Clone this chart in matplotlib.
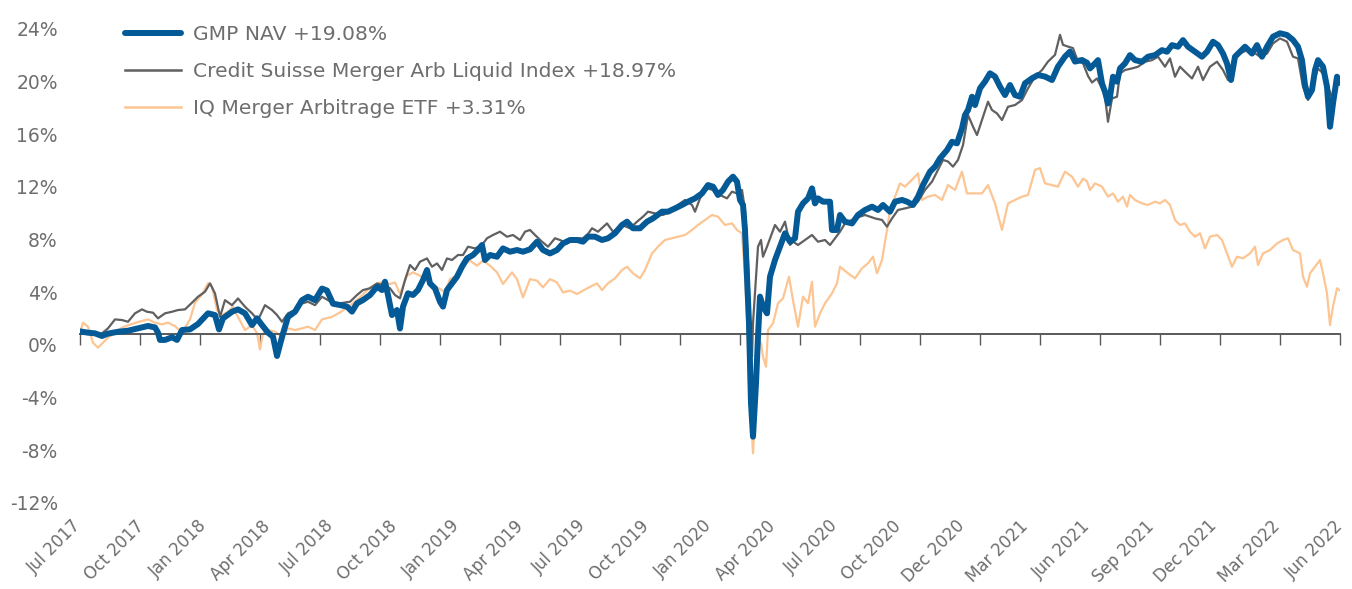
import numpy as np
import matplotlib
matplotlib.use("Agg")
import matplotlib.pyplot as plt
from matplotlib.lines import Line2D
from matplotlib.transforms import ScaledTranslation

# x = trading-day index from the start of Jul 2017, y = cumulative return in %
gmp_day = [0, 8, 15, 22, 28, 38, 48, 58, 68, 75, 78, 80, 85, 92, 97, 102, 110, 118, 128, 135,
           139, 143, 152, 158, 165, 172, 177, 182, 188, 193, 197, 200, 203, 208, 215, 222, 228, 235, 242, 247,
           253, 260, 267, 272, 277, 283, 290, 297, 302, 305, 308, 312, 317, 320, 323, 328, 333, 338, 343, 347,
           350, 355, 360, 363, 367, 372, 377, 382, 387, 393, 398, 402, 405, 410, 417, 423, 430, 437, 443, 450,
           457, 463, 470, 477, 483, 490, 497, 503, 508, 515, 522, 528, 535, 542, 547, 553, 560, 567, 573, 582,
           588, 595, 602, 608, 615, 622, 628, 633, 638, 643, 648, 653, 657, 660, 663, 665, 667, 669, 671, 673,
           676, 678, 680, 683, 687, 690, 695, 700, 705, 710, 715, 718, 723, 728, 732, 735, 738, 743, 750, 752,
           757, 760, 765, 772, 778, 785, 792, 798, 803, 810, 815, 822, 827, 833, 838, 843, 850, 855, 860, 867,
           872, 877, 882, 885, 888, 892, 895, 900, 905, 910, 915, 920, 925, 930, 935, 940, 945, 952, 958, 965,
           972, 978, 985, 990, 995, 1002, 1007, 1010, 1015, 1018, 1022, 1025, 1028, 1030, 1033, 1037, 1040, 1045, 1050, 1055,
           1062, 1068, 1075, 1082, 1087, 1092, 1098, 1103, 1108, 1115, 1122, 1127, 1133, 1138, 1143, 1147, 1151, 1155, 1160, 1165,
           1172, 1177, 1182, 1187, 1193, 1200, 1207, 1213, 1218, 1222, 1225, 1228, 1232, 1235, 1238, 1243, 1247, 1250, 1253, 1257,
           1260]
gmp_ret = [0.2, 0.1, 0.05, -0.15, 0.03, 0.17, 0.25, 0.43, 0.61, 0.5, 0.1, -0.45, -0.45, -0.25, -0.45, 0.3, 0.35, 0.76, 1.57, 1.44,
           0.35, 1.19, 1.69, 1.87, 1.57, 0.68, 1.19, 0.68, 0.1, -0.2, -1.67, -0.8, 0.03, 1.3, 1.69, 2.57, 2.83, 2.57, 3.45, 3.3,
           2.3, 2.2, 2.08, 1.7, 2.33, 2.58, 2.96, 3.59, 3.34, 3.97, 2.96, 1.44, 1.82, 0.42, 2.08, 3.09, 2.96, 3.34, 4.1, 4.86,
           3.84, 3.47, 2.45, 2.08, 3.34, 3.84, 4.35, 5.11, 5.74, 6.0, 6.38, 6.76, 5.62, 6.0, 5.87, 6.5, 6.25, 6.38, 6.25, 6.43,
           7.01, 6.38, 6.12, 6.38, 6.88, 7.14, 7.14, 7.01, 7.4, 7.39, 7.14, 7.27, 7.65, 8.28, 8.53, 8.03, 8.03, 8.53, 8.78, 9.29,
           9.29, 9.54, 9.8, 10.05, 10.3, 10.68, 11.31, 11.19, 10.56, 10.94, 11.57, 11.95, 11.57, 10.18, 9.8, 7.9, 4.35, 0.81, -5.26, -7.8,
           -3.75, -0.2, 2.84, 2.08, 1.57, 4.35, 5.62, 6.63, 7.65, 7.01, 7.27, 9.29, 9.92, 10.3, 11.06, 9.92, 10.3, 10.05, 10.05, 7.9,
           7.9, 9.04, 8.53, 8.4, 9.04, 9.42, 9.67, 9.42, 9.8, 9.29, 10.05, 10.18, 10.05, 9.8, 10.43, 11.31, 12.33, 12.71, 13.34, 13.97,
           14.6, 14.48, 15.62, 16.63, 17.01, 18.02, 17.39, 18.66, 19.17, 19.8, 19.55, 18.79, 18.15, 18.91, 18.15, 18.02, 19.04, 19.42, 19.67, 19.55,
           19.29, 20.31, 21.07, 21.45, 20.69, 20.81, 20.6, 20.17, 20.55, 20.8, 19.03, 18.4, 17.51, 18.02, 19.54, 19.16, 20.17, 20.55, 21.18, 20.8,
           20.68, 21.06, 21.18, 21.56, 21.44, 21.94, 21.82, 22.32, 21.82, 21.44, 21.06, 21.44, 22.2, 21.94, 21.3, 20.55, 19.29, 21.06, 21.44, 21.82,
           21.3, 21.94, 21.06, 21.82, 22.58, 22.84, 22.71, 22.33, 21.82, 20.8, 18.91, 18.02, 18.53, 20.05, 20.8, 20.3, 18.78, 15.74, 17.51, 19.54,
           19.08]

cs_day = [0, 8, 22, 28, 35, 42, 48, 55, 62, 67, 73, 78, 85, 92, 98, 105, 112, 118, 125, 130,
          135, 140, 145, 152, 158, 165, 172, 178, 185, 192, 197, 202, 208, 215, 222, 228, 235, 242, 252, 260,
          270, 277, 283, 290, 297, 303, 310, 315, 320, 325, 330, 335, 340, 347, 352, 357, 362, 367, 372, 378,
          383, 388, 395, 402, 407, 413, 420, 427, 433, 440, 445, 450, 455, 462, 468, 475, 480, 487, 493, 503,
          508, 512, 518, 527, 533, 542, 550, 557, 563, 568, 575, 583, 590, 598, 605, 612, 615, 620, 627, 633,
          640, 647, 652, 657, 662, 665, 668, 670, 672, 673, 676, 678, 681, 683, 687, 692, 695, 700, 705, 710,
          713, 718, 725, 732, 738, 745, 750, 755, 760, 765, 775, 785, 795, 802, 807, 812, 818, 825, 832, 838,
          845, 852, 858, 863, 868, 873, 878, 883, 888, 893, 897, 902, 908, 912, 917, 922, 928, 935, 942, 948,
          955, 962, 968, 975, 980, 983, 988, 993, 998, 1003, 1008, 1012, 1017, 1022, 1025, 1028, 1032, 1037, 1040, 1045,
          1052, 1058, 1065, 1072, 1078, 1085, 1090, 1095, 1100, 1105, 1112, 1118, 1123, 1130, 1137, 1143, 1148, 1153, 1160, 1167,
          1173, 1180, 1187, 1193, 1200, 1207, 1213, 1218, 1223, 1228, 1233, 1238, 1243, 1248, 1253, 1257, 1260]
cs_ret = [0.1, 0.1, 0.05, 0.43, 1.11, 1.06, 0.93, 1.57, 1.87, 1.69, 1.62, 1.19, 1.57, 1.69, 1.82, 1.87, 2.38, 2.83, 3.21, 3.85,
          3.08, 1.3, 2.57, 2.19, 2.7, 2.07, 1.57, 1.06, 2.19, 1.82, 1.44, 0.93, 1.57, 1.82, 2.32, 2.45, 2.19, 2.83, 2.4, 2.33,
          2.45, 2.96, 3.34, 3.47, 3.84, 3.72, 3.47, 2.96, 2.71, 4.1, 5.24, 4.86, 5.49, 5.74, 5.11, 5.36, 4.86, 5.74, 5.62, 6.0,
          6.0, 6.63, 6.5, 6.76, 7.27, 7.52, 7.77, 7.39, 7.52, 7.14, 7.77, 7.9, 7.52, 7.01, 6.63, 7.27, 7.14, 6.88, 7.27, 7.27,
          7.6, 8.03, 7.77, 8.4, 7.77, 8.28, 8.03, 8.53, 8.91, 9.29, 9.16, 9.04, 9.29, 9.8, 10.18, 9.8, 9.29, 10.3, 11.06, 10.94,
          10.56, 10.3, 10.81, 10.68, 10.94, 9.42, 5.62, 0.81, -1.72, 0.81, 4.35, 6.63, 7.14, 5.87, 6.63, 7.65, 8.28, 7.77, 8.53, 6.76,
          7.01, 6.76, 7.14, 7.52, 7.01, 7.14, 6.76, 7.27, 7.77, 8.4, 8.78, 9.04, 8.78, 8.66, 8.15, 8.78, 9.42, 9.54, 9.67, 10.05,
          10.94, 11.57, 12.46, 13.22, 13.1, 12.71, 13.22, 14.35, 16.63, 15.75, 15.11, 16.25, 17.64, 17.01, 16.75, 16.25, 17.26, 17.39, 17.77, 18.66,
          19.55, 20.05, 20.69, 21.2, 22.72, 21.96, 21.83, 21.71, 20.69, 20.56, 19.6, 19.1, 19.41, 18.65, 18.02, 16.12, 17.89, 18.02, 19.79, 20.05,
          20.17, 20.3, 20.68, 20.8, 21.06, 20.3, 20.93, 19.54, 20.3, 19.92, 19.41, 20.3, 19.29, 20.3, 20.68, 20.05, 19.29, 20.8, 21.3, 21.56,
          21.44, 21.06, 21.3, 22.07, 22.45, 22.2, 21.06, 20.93, 18.78, 17.77, 18.91, 20.17, 19.79, 18.78, 17.8, 19.3, 18.97]

iq_day = [0, 3, 8, 13, 18, 23, 28, 35, 42, 48, 58, 68, 75, 82, 88, 95, 102, 110, 115, 122,
          128, 132, 137, 142, 148, 153, 158, 165, 172, 177, 180, 183, 188, 195, 202, 208, 215, 222, 228, 235,
          242, 252, 260, 270, 280, 290, 300, 310, 315, 320, 327, 333, 340, 347, 353, 360, 365, 370, 377, 383,
          390, 397, 403, 410, 417, 423, 432, 437, 443, 450, 457, 463, 470, 477, 483, 490, 497, 503, 508, 517,
          522, 528, 535, 542, 547, 553, 560, 565, 572, 578, 585, 592, 598, 605, 612, 618, 625, 632, 638, 645,
          652, 657, 662, 665, 667, 669, 672, 673, 676, 678, 681, 683, 686, 688, 693, 698, 703, 709, 713, 718,
          723, 728, 732, 735, 740, 745, 752, 757, 760, 765, 768, 775, 782, 788, 793, 797, 802, 807, 810, 815,
          820, 825, 830, 835, 838, 842, 848, 855, 862, 868, 875, 882, 887, 895, 902, 908, 915, 922, 928, 935,
          942, 948, 955, 960, 965, 972, 978, 985, 992, 998, 1003, 1007, 1010, 1015, 1022, 1028, 1033, 1038, 1043, 1047,
          1050, 1055, 1062, 1068, 1075, 1080, 1085, 1090, 1095, 1100, 1105, 1110, 1115, 1120, 1125, 1130, 1137, 1142, 1147, 1152,
          1157, 1163, 1170, 1175, 1178, 1183, 1190, 1197, 1203, 1208, 1213, 1220, 1223, 1227, 1230, 1235, 1240, 1243, 1247, 1250,
          1253, 1257, 1260]
iq_ret = [0.1, 0.86, 0.56, -0.66, -1.04, -0.66, -0.28, 0.1, 0.48, 0.66, 0.91, 1.11, 0.86, 0.73, 0.86, 0.6, 0.1, 1.11, 2.38, 3.0,
          3.85, 3.6, 1.82, 1.44, 1.69, 2.07, 1.3, 0.3, 0.68, 0.05, -1.17, 0.05, 0.3, 0.17, -0.2, 0.43, 0.3, 0.43, 0.56, 0.3,
          1.11, 1.3, 1.64, 2.15, 2.78, 3.54, 3.92, 3.8, 3.92, 3.04, 4.43, 4.68, 4.43, 4.05, 3.67, 3.42, 3.16, 4.17, 4.43, 5.19,
          5.57, 5.19, 5.57, 5.19, 4.68, 3.8, 4.68, 4.17, 2.78, 4.17, 4.05, 3.54, 4.17, 3.92, 3.16, 3.29, 3.04, 3.29, 3.5, 3.85,
          3.34, 3.85, 4.23, 4.86, 5.11, 4.61, 4.23, 4.86, 6.12, 6.63, 7.14, 7.27, 7.39, 7.52, 7.9, 8.28, 8.66, 9.04, 8.91, 8.28,
          8.4, 7.9, 7.65, 4.35, 1.32, -3.75, -7.54, -9.06, -4.76, -0.2, -0.71, -1.72, -2.48, 0.3, 0.81, 2.33, 2.71, 4.35, 2.58, 0.56,
          2.84, 2.33, 3.97, 0.56, 1.57, 2.33, 3.09, 3.85, 5.11, 4.8, 4.61, 4.23, 4.99, 5.37, 5.87, 4.61, 5.62, 7.9, 9.42, 10.43,
          11.44, 11.19, 11.57, 11.95, 12.2, 10.18, 10.43, 10.56, 10.18, 11.31, 10.94, 12.33, 10.68, 10.68, 10.68, 11.31, 9.92, 7.9, 9.92, 10.18,
          10.43, 10.56, 12.46, 12.6, 11.44, 11.31, 11.19, 12.33, 11.95, 11.19, 11.8, 11.6, 10.94, 11.44, 11.19, 10.43, 10.68, 10.05, 10.43, 9.67,
          10.56, 10.18, 9.92, 9.8, 10.05, 9.92, 10.18, 9.8, 8.66, 8.28, 8.4, 7.77, 7.39, 7.65, 6.5, 7.39, 7.52, 7.14, 6.12, 5.11,
          5.87, 5.75, 6.12, 6.63, 5.24, 6.12, 6.38, 6.88, 7.14, 7.27, 6.38, 6.12, 4.35, 3.59, 4.61, 5.11, 5.62, 4.61, 3.09, 0.68,
          2.08, 3.47, 3.31]

series_names = ["GMP NAV +19.08%",
                "Credit Suisse Merger Arb Liquid Index +18.97%",
                "IQ Merger Arbitrage ETF +3.31%"]

quarter_labels = ["Jul 2017", "Oct 2017", "Jan 2018", "Apr 2018", "Jul 2018", "Oct 2018",
                  "Jan 2019", "Apr 2019", "Jul 2019", "Oct 2019", "Jan 2020", "Apr 2020",
                  "Jul 2020", "Oct 2020", "Dec 2020", "Mar 2021", "Jun 2021", "Sep 2021",
                  "Dec 2021", "Mar 2022", "Jun 2022"]

BLUE = "#035a96"
GREY = "#606060"
PEACH = "#fcc592"
TEXT = "#6e6e6e"


def main():
    fig = plt.figure(figsize=(13.52, 5.89), dpi=100)
    ax = fig.add_axes([80 / 1352, 97 / 589, 1260 / 1352, 474 / 589])

    # lines: lightest at the back, fund on top
    ax.plot(iq_day, iq_ret, color=PEACH, lw=1.6, zorder=2)
    ax.plot(cs_day, cs_ret, color=GREY, lw=1.6, zorder=3)
    ax.plot(gmp_day, gmp_ret, color=BLUE, lw=4.3, zorder=4,
            solid_capstyle="round", solid_joinstyle="round")

    ax.set_xlim(0, 1260)
    ax.set_ylim(-12, 24)

    # y axis: labels only, no spine; labels sit a little under their value
    ax.set_yticks(np.arange(-12, 25, 4))
    ax.set_yticklabels([f"{v}%" for v in range(-12, 25, 4)])
    ax.tick_params(axis="y", length=0, pad=16, labelsize=13.5, labelcolor=TEXT)
    shift = ScaledTranslation(0, -0.11, fig.dpi_scale_trans)
    for lab in ax.get_yticklabels():
        lab.set_transform(lab.get_transform() + shift)

    # x axis line sits at 0%, labels stay at the bottom
    for side in ["left", "right", "top"]:
        ax.spines[side].set_visible(False)
    ax.spines["bottom"].set_position(("data", 0))
    ax.spines["bottom"].set_color("#595959")
    ax.spines["bottom"].set_linewidth(1.4)
    ax.set_xticks(np.arange(0, 1261, 60))
    ax.tick_params(axis="x", direction="out", length=8, width=1, color="#595959",
                   labelbottom=False)

    label_pos = np.linspace(-8, 1254, len(quarter_labels))
    for pos, lab in zip(label_pos, quarter_labels):
        ax.annotate(lab, xy=(pos, 0), xycoords=("data", "axes fraction"),
                    xytext=(0, -18), textcoords="offset points",
                    rotation=45, ha="right", va="top", rotation_mode="anchor",
                    fontsize=12, color=TEXT, annotation_clip=False)

    handles = [Line2D([], [], color=BLUE, lw=4.3, solid_capstyle="round"),
               Line2D([], [], color=GREY, lw=1.8),
               Line2D([], [], color=PEACH, lw=1.8)]
    fig.legend(handles, series_names, loc="upper left",
               bbox_to_anchor=(125 / 1352, 1 - 25 / 589), frameon=False,
               fontsize=14.6, labelcolor=TEXT, handlelength=2.75, handletextpad=0.62,
               labelspacing=0.9, borderpad=0, borderaxespad=0)

    fig.savefig("out.png", dpi=100)
    plt.close(fig)


if __name__ == "__main__":
    main()
